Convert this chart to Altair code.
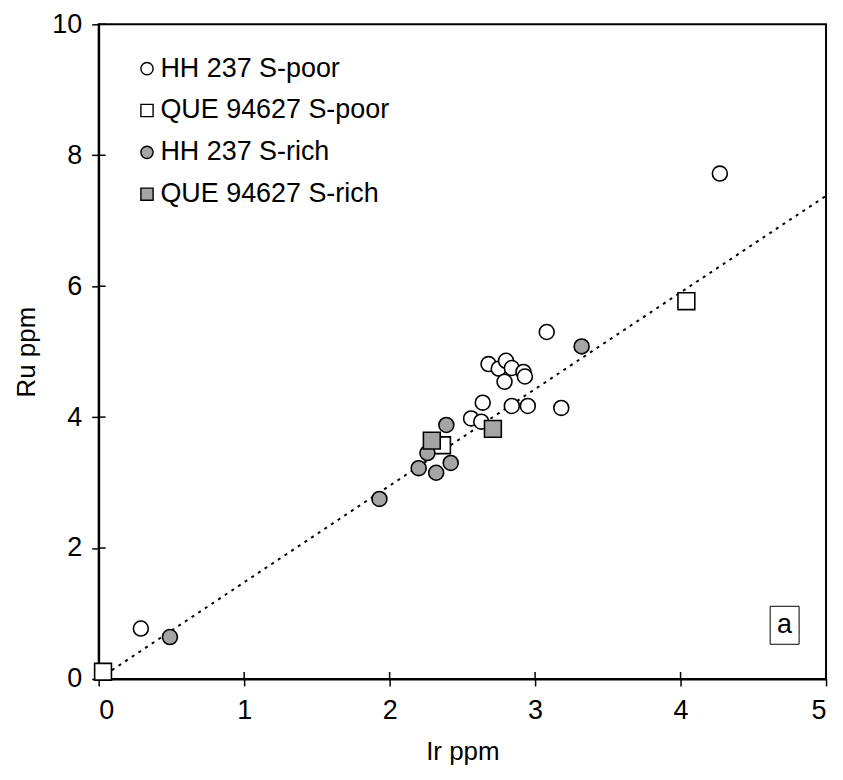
import altair as alt
import pandas as pd

# ---- data ----
series_names = ["HH 237 S-poor", "QUE 94627 S-poor", "HH 237 S-rich", "QUE 94627 S-rich"]
series_kind = ["circle", "square", "circle", "square"]

hh_poor_ir = [0.29, 2.56, 2.63, 2.64, 2.68, 2.75, 2.80, 2.79, 2.84, 2.92, 2.93, 2.84, 2.95, 3.08, 3.18, 4.27]
hh_poor_ru = [0.77, 3.98, 3.93, 4.22, 4.81, 4.74, 4.86, 4.54, 4.75, 4.69, 4.62, 4.17, 4.17, 5.30, 4.14, 7.72]

que_poor_ir = [0.03, 2.36, 4.04]
que_poor_ru = [0.11, 3.57, 5.77]

hh_rich_ir = [0.49, 1.93, 2.20, 2.26, 2.32, 2.39, 2.42, 3.32]
hh_rich_ru = [0.64, 2.75, 3.22, 3.45, 3.15, 3.88, 3.30, 5.08]

que_rich_ir = [2.29, 2.71]
que_rich_ru = [3.64, 3.82]

fit_ir = [0.0, 5.0]
fit_ru = [0.0, 7.38]

x_ticks = [0, 1, 2, 3, 4, 5]
y_ticks = [0, 2, 4, 6, 8, 10]

panel_label = "a"

# ---- tables ----
rows = []
for k, (name, xs, ys) in enumerate([
    (series_names[0], hh_poor_ir, hh_poor_ru),
    (series_names[1], que_poor_ir, que_poor_ru),
    (series_names[2], hh_rich_ir, hh_rich_ru),
    (series_names[3], que_rich_ir, que_rich_ru),
]):
    for a, b in zip(xs, ys):
        rows.append({"series": name, "kind": series_kind[k], "ir": a, "ru": b, "order": len(rows)})
pts = pd.DataFrame(rows)
fit = pd.DataFrame({"ir": fit_ir, "ru": fit_ru})
xt = pd.DataFrame({"v": x_ticks})
yt = pd.DataFrame({"v": y_ticks})

FONT = "Liberation Sans"
FS = 27
TFS = 26
W, H = 730, 657
GRAY = "#a5a5a5"

xscale = alt.Scale(domain=[0, 5], nice=False, zero=False)
yscale = alt.Scale(domain=[0, 10], nice=False, zero=False)

xaxis = alt.Axis(values=x_ticks, title="Ir ppm", grid=False, tickSize=7, labelPadding=12,
                 titlePadding=15, format="d")
yaxis = alt.Axis(values=y_ticks, title="Ru ppm", grid=False, tickSize=7, labelPadding=10,
                 titlePadding=12, format="d")

legend = alt.Legend(title=None, orient="none", legendX=35, legendY=31,
                    labelFont=FONT, labelFontSize=FS, labelColor="black", labelLimit=0,
                    symbolSize=150, symbolStrokeColor="black",
                    symbolStrokeWidth=1.4, rowPadding=14, labelOffset=0, padding=0)

line = alt.Chart(fit).mark_line(color="black", strokeDash=[3, 5], strokeWidth=2).encode(
    x=alt.X("ir:Q", scale=xscale, axis=xaxis),
    y=alt.Y("ru:Q", scale=yscale, axis=yaxis),
)

points = alt.Chart(pts).mark_point(filled=False, strokeWidth=1.6, opacity=1).encode(
    x=alt.X("ir:Q", scale=xscale, axis=xaxis),
    y=alt.Y("ru:Q", scale=yscale, axis=yaxis),
    shape=alt.Shape("series:N", scale=alt.Scale(domain=series_names, range=series_kind),
                    legend=legend),
    fill=alt.Fill("series:N", scale=alt.Scale(domain=series_names,
                  range=["white", "white", GRAY, GRAY]), legend=legend),
    stroke=alt.Stroke("series:N", scale=alt.Scale(domain=series_names,
                      range=["black", "black", "black", "black"]), legend=legend),
    size=alt.Size("kind:N", scale=alt.Scale(domain=["circle", "square"], range=[225, 285]),
                  legend=None),
    order=alt.Order("order:Q"),
)

in_xticks = alt.Chart(xt).mark_rule(color="black", strokeWidth=1.5).encode(
    x=alt.X("v:Q", scale=xscale), y=alt.value(H), y2=alt.value(H - 7))
in_yticks = alt.Chart(yt).mark_rule(color="black", strokeWidth=1.5).encode(
    y=alt.Y("v:Q", scale=yscale), x=alt.value(0), x2=alt.value(7))

box = alt.Chart(pd.DataFrame({"x": [4.616], "x2": [4.815], "y": [0.53], "y2": [1.11]})).mark_rect(
    fill="white", stroke="black", strokeWidth=1).encode(
    x=alt.X("x:Q", scale=xscale), x2="x2:Q", y=alt.Y("y:Q", scale=yscale), y2="y2:Q")
label = alt.Chart(pd.DataFrame({"x": [4.715], "y": [0.82], "t": [panel_label]})).mark_text(
    font=FONT, fontSize=FS, color="black", baseline="middle", align="center").encode(
    x=alt.X("x:Q", scale=xscale), y=alt.Y("y:Q", scale=yscale), text="t:N")

chart = alt.layer(line, in_xticks, in_yticks, box, label, points).properties(
    width=W, height=H, background="white",
    padding={"left": 5, "top": 1, "right": 5, "bottom": 3},
).configure_view(
    stroke="black", strokeWidth=2
).configure_axis(
    domainColor="black", domainWidth=2, tickColor="black", tickWidth=1.5,
    labelFont=FONT, labelFontSize=FS, labelColor="black",
    titleFont=FONT, titleFontSize=TFS, titleColor="black", titleFontWeight="normal",
)

chart.save("out.html", embed_options={"renderer": "svg", "actions": False})
